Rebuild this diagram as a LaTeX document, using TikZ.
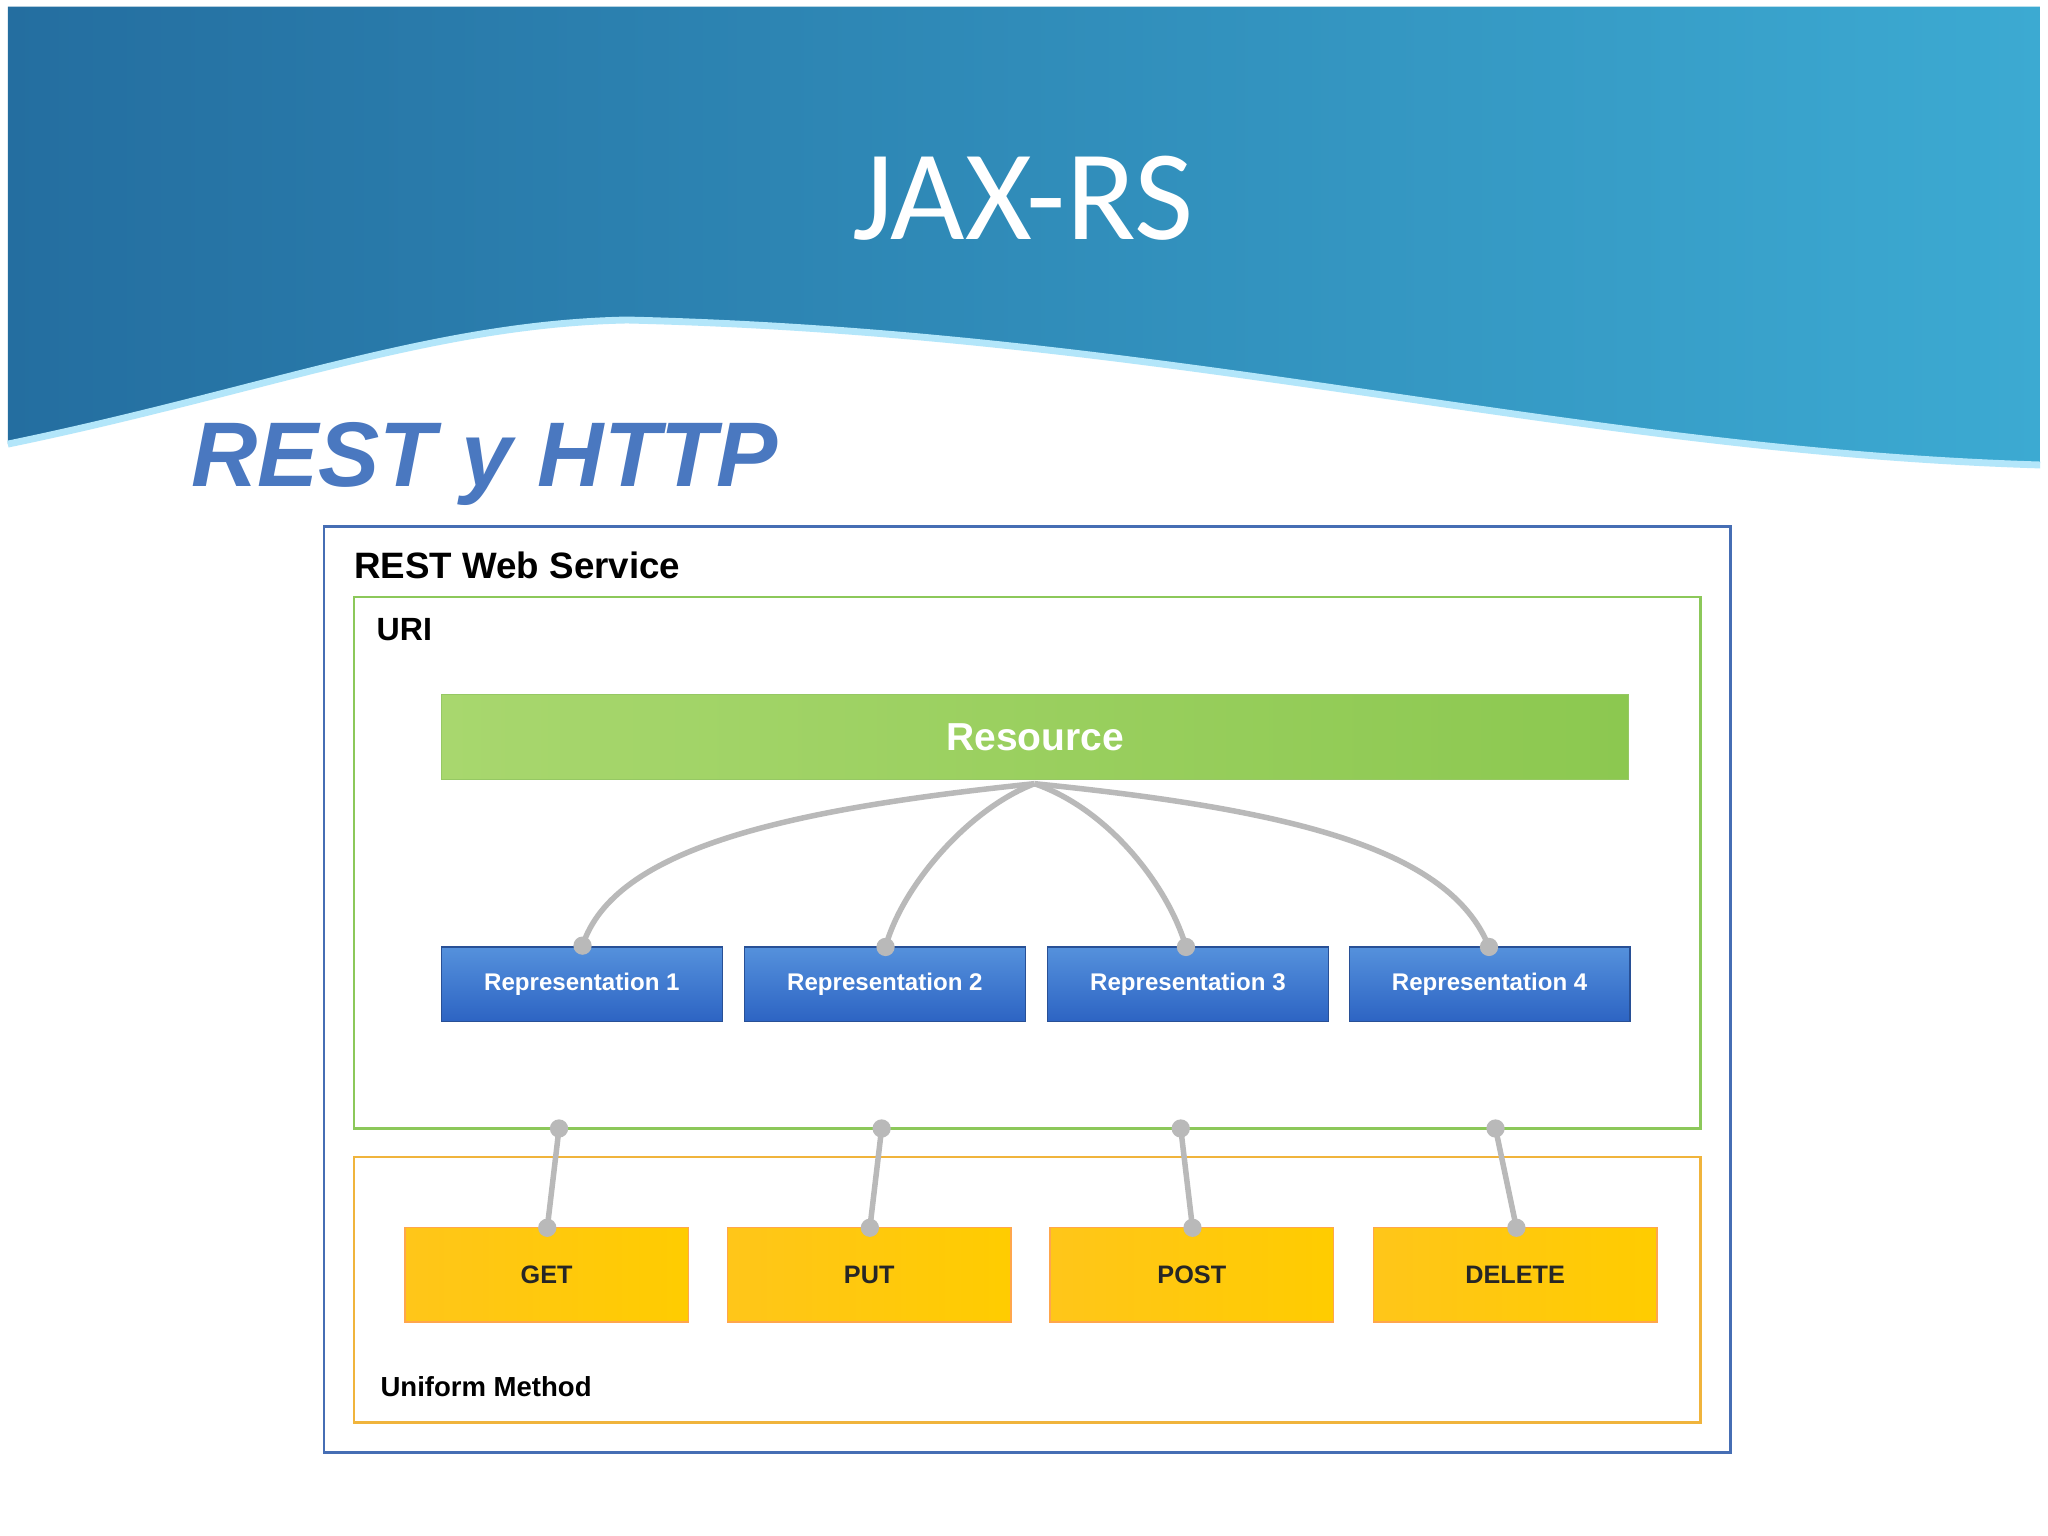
\documentclass[tikz,border=0pt]{standalone}
\usepackage{fontspec}
\setmainfont{Liberation Sans}
\newfontfamily\titlefont{Carlito}
\begin{document}
\begin{tikzpicture}[x=0.02cm,y=-0.02cm,
  lbl/.style={font=\bfseries\fontsize{14}{16}\selectfont, anchor=west, inner sep=0},
  rep/.style={draw={rgb,255:red,40;green,80;blue,150}, line width=0.6pt, top color={rgb,255:red,85;green,145;blue,220}, bottom color={rgb,255:red,45;green,100;blue,195}, text=white, font=\bfseries\fontsize{10.5}{13}\selectfont, minimum width=215*0.02cm, minimum height=57*0.02cm, inner sep=0},
  meth/.style={draw=orange!70, line width=0.6pt, left color=yellow!50!orange!90, right color=orange!40!yellow, text=black!85, font=\bfseries\fontsize{11}{13}\selectfont, minimum width=217*0.02cm, minimum height=72*0.02cm, inner sep=0},
  conn/.style={draw=gray!55, line width=2.4pt},
  dot/.style={circle, fill=gray!55, inner sep=0, minimum size=14*0.02cm}]
\useasboundingbox (0,0) rectangle (1568,1176);
\fill[white] (0,0) rectangle (1568,1176);
% header
\shade[left color={rgb,255:red,36;green,110;blue,160}, right color={rgb,255:red,60;green,170;blue,210}]
 (6,5) -- (1562,5) -- (1562,356) .. controls (1200,345) and (900,255) .. (480,245) .. controls (330,248) and (200,300) .. (6,340) -- cycle;
\draw[white!70!cyan, line width=3pt] (6,340) .. controls (200,300) and (330,248) .. (480,245) .. controls (900,255) and (1200,345) .. (1562,356);
\node[text=white, font=\titlefont\fontsize{56}{64}\selectfont, inner sep=0] (title) at (783,152) {JAX-RS};
\node[text={rgb,255:red,74;green,120;blue,192}, font=\bfseries\itshape\fontsize{40}{46}\selectfont, anchor=west, inner sep=0] (sub) at (146,355) {REST y HTTP};
% boxes
\draw[draw={rgb,255:red,70;green,110;blue,180}, line width=1pt] (248,403) rectangle (1325,1112);
\node[lbl, font=\bfseries\fontsize{16}{18}\selectfont] (rws) at (271,433) {REST Web Service};
\draw[draw={rgb,255:red,140;green,200;blue,90}, line width=1pt] (271,457) rectangle (1302,864);
\node[lbl] (uri) at (288,482) {URI};
\draw[draw={rgb,255:red,240;green,180;blue,60}, line width=1pt] (271,886) rectangle (1302,1089);
\node[lbl, font=\bfseries\fontsize{12}{14}\selectfont] (um) at (291,1062) {Uniform Method};
% resource
\node[left color={rgb,255:red,168;green,215;blue,110}, right color={rgb,255:red,140;green,200;blue,80}, draw={rgb,255:red,150;green,200;blue,100}, text=white, font=\bfseries\fontsize{17}{19}\selectfont, minimum width=909*0.02cm, minimum height=65*0.02cm, inner sep=0] (res) at (792.5,564.5) {Resource};
\coordinate (rb) at (792,600);
% reps
\node[rep] (r1) at (445.5,753.5) {Representation 1};
\node[rep] (r2) at (677.5,753.5) {Representation 2};
\node[rep] (r3) at (909.5,753.5) {Representation 3};
\node[rep] (r4) at (1140.5,753.5) {Representation 4};
\coordinate (t1) at (446,724); \coordinate (t2) at (678,725);
\coordinate (t3) at (908,725); \coordinate (t4) at (1140,725);
\draw[conn] (rb) .. controls (600,620) and (470,650) .. (t1);
\draw[conn] (rb) .. controls (740,620) and (690,680) .. (t2);
\draw[conn] (rb) .. controls (850,620) and (895,680) .. (t3);
\draw[conn] (rb) .. controls (990,620) and (1110,650) .. (t4);
\foreach \c in {t1,t2,t3,t4} \node[dot] at (\c) {};
% methods
\node[meth] (m1) at (418.5,976) {GET};
\node[meth] (m2) at (665.5,976) {PUT};
\node[meth] (m3) at (912.5,976) {POST};
\node[meth] (m4) at (1160,976) {DELETE};
\coordinate (u1) at (428,864); \coordinate (u2) at (675,864);
\coordinate (u3) at (904,864); \coordinate (u4) at (1145,864);
\coordinate (b1) at (419,940); \coordinate (b2) at (666,940);
\coordinate (b3) at (913,940); \coordinate (b4) at (1161,940);
\foreach \i in {1,2,3,4} {\draw[conn] (u\i) -- (b\i); \node[dot] at (u\i) {}; \node[dot] at (b\i) {};}
\end{tikzpicture}
\end{document}
